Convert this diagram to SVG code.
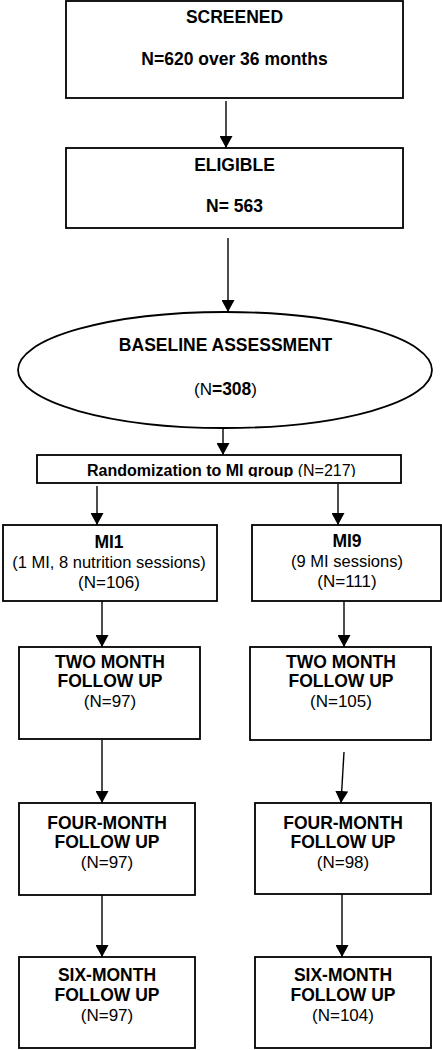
<svg xmlns="http://www.w3.org/2000/svg" width="442" height="1050" viewBox="0 0 442 1050">
  <style>
    .box { fill: #ffffff; stroke: #000000; stroke-width: 1.8; }
    .edge { stroke: #000000; stroke-width: 1.4; fill: none; marker-end: url(#arrow); }
    text { font-family: "Liberation Sans", Arial, sans-serif; fill: #000000; text-anchor: middle; }
    .b { font-weight: bold; font-size: 17.5px; }
    .r { font-weight: normal; font-size: 17px; }
    .rs { font-weight: normal; font-size: 16.5px; }
  </style>
  <defs>
    <marker id="arrow" markerUnits="userSpaceOnUse" markerWidth="13" markerHeight="13" refX="12" refY="6.5" orient="auto">
      <path d="M0,0 L12,6.5 L0,13 z" fill="#000000"/>
    </marker>
    <clipPath id="randClip">
      <rect x="37" y="455" width="364" height="22"/>
    </clipPath>
  </defs>
  <rect x="0" y="0" width="442" height="1050" fill="#ffffff"/>

  <g id="screened">
    <rect class="box" x="66" y="1" width="337" height="97"/>
    <text class="b" x="234.5" y="23">SCREENED</text>
    <text class="b" x="234.5" y="65">N=620 over 36 months</text>
  </g>

  <g id="eligible">
    <rect class="box" x="66" y="148" width="337" height="80"/>
    <text class="b" x="234.5" y="171">ELIGIBLE</text>
    <text class="b" x="234.5" y="212">N= 563</text>
  </g>

  <g id="baseline">
    <ellipse class="box" cx="225" cy="370" rx="207" ry="58"/>
    <text class="b" x="225.5" y="351">BASELINE ASSESSMENT</text>
    <text x="225.5" y="395"><tspan class="r">(N</tspan><tspan class="b">=308</tspan><tspan class="r">)</tspan></text>
  </g>

  <g id="randomization">
    <rect class="box" x="37" y="455" width="364" height="28"/>
    <text x="221.5" y="476" clip-path="url(#randClip)" style="font-size:16px"><tspan style="font-weight:bold">Randomization to MI group </tspan><tspan style="font-weight:normal">(N=217)</tspan></text>
  </g>

  <g id="mi1">
    <rect class="box" x="3" y="525" width="214" height="76"/>
    <text class="b" x="109" y="548">MI1</text>
    <text class="rs" x="109" y="568">(1 MI, 8 nutrition sessions)</text>
    <text class="r" x="109" y="588">(N=106)</text>
  </g>

  <g id="mi9">
    <rect class="box" x="252" y="525" width="189" height="76"/>
    <text class="b" x="347" y="547">MI9</text>
    <text class="rs" x="347" y="567">(9 MI sessions)</text>
    <text class="r" x="347" y="587">(N=111)</text>
  </g>

  <g id="two-month-mi1">
    <rect class="box" x="19" y="647" width="181" height="92"/>
    <text class="b" x="110" y="668">TWO MONTH</text>
    <text class="b" x="110" y="687">FOLLOW UP</text>
    <text class="r" x="110" y="707">(N=97)</text>
  </g>

  <g id="two-month-mi9">
    <rect class="box" x="250" y="647" width="181" height="93"/>
    <text class="b" x="341" y="668">TWO MONTH</text>
    <text class="b" x="341" y="687">FOLLOW UP</text>
    <text class="r" x="341" y="707">(N=105)</text>
  </g>

  <g id="four-month-mi1">
    <rect class="box" x="19" y="803" width="176" height="92"/>
    <text class="b" x="107" y="829">FOUR-MONTH</text>
    <text class="b" x="107" y="848">FOLLOW UP</text>
    <text class="r" x="107" y="868">(N=97)</text>
  </g>

  <g id="four-month-mi9">
    <rect class="box" x="255" y="803" width="176" height="91"/>
    <text class="b" x="343" y="829">FOUR-MONTH</text>
    <text class="b" x="343" y="848">FOLLOW UP</text>
    <text class="r" x="343" y="868">(N=98)</text>
  </g>

  <g id="six-month-mi1">
    <rect class="box" x="19" y="957" width="176" height="91"/>
    <text class="b" x="107" y="981">SIX-MONTH</text>
    <text class="b" x="107" y="1001">FOLLOW UP</text>
    <text class="r" x="107" y="1021">(N=97)</text>
  </g>

  <g id="six-month-mi9">
    <rect class="box" x="255" y="957" width="176" height="91"/>
    <text class="b" x="343" y="981">SIX-MONTH</text>
    <text class="b" x="343" y="1001">FOLLOW UP</text>
    <text class="r" x="343" y="1021">(N=104)</text>
  </g>

  <g id="connectors">
    <line class="edge" x1="226" y1="101" x2="226" y2="148"/>
    <line class="edge" x1="228" y1="238" x2="228" y2="312"/>
    <line class="edge" x1="223" y1="428" x2="223" y2="455"/>
    <line class="edge" x1="97" y1="486" x2="97" y2="525"/>
    <line class="edge" x1="338" y1="484" x2="338" y2="525"/>
    <line class="edge" x1="102" y1="601" x2="102" y2="647"/>
    <line class="edge" x1="344" y1="601" x2="344" y2="647"/>
    <line class="edge" x1="102" y1="740" x2="102" y2="803"/>
    <line class="edge" x1="344" y1="752" x2="341" y2="803"/>
    <line class="edge" x1="102" y1="895" x2="102" y2="957"/>
    <line class="edge" x1="342" y1="894" x2="342" y2="957"/>
  </g>
</svg>
